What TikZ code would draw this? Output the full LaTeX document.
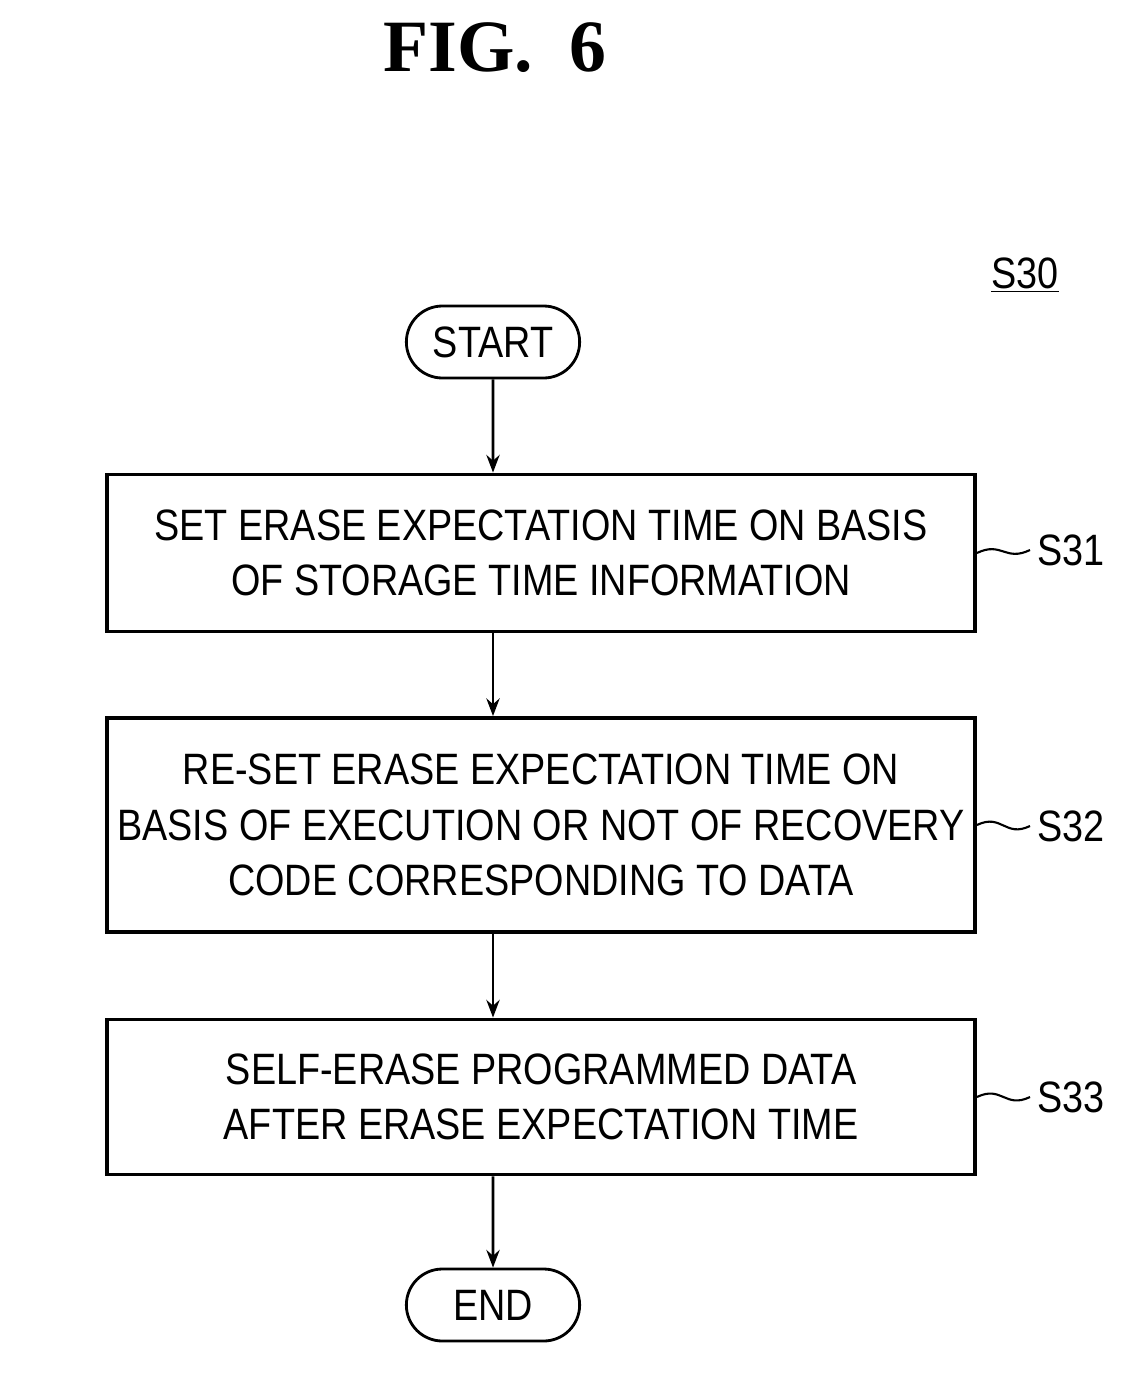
\documentclass[tikz,border=0pt]{standalone}
\usepackage{fontspec}
\setmainfont{Liberation Sans}[FakeStretch=0.86]
\newfontfamily\titlefont{Liberation Serif}
\usetikzlibrary{shapes.misc,arrows.meta}
\begin{document}
\begin{tikzpicture}[x=0.02cm,y=-0.02cm,line width=1.6pt,
stepbox/.style={draw,rectangle,inner sep=0pt,minimum width=868*0.02cm,align=center,font=\fontsize{25}{31.5}\selectfont,line width=2.2pt},
termnode/.style={draw,rounded rectangle,minimum width=185*0.02cm,minimum height=72*0.02cm,font=\fontsize{25}{30}\selectfont},
steplabel/.style={font=\fontsize{25}{30}\selectfont,anchor=west}]
\useasboundingbox (0,0) rectangle (1145,1375);

\node[font=\titlefont\bfseries\fontsize{42}{48}\selectfont] (title) at (495,48) {FIG.\ \ 6};
\node[font=\fontsize{25}{30}\selectfont] (S30) at (1025,275) {\underline{S30}};

\node[termnode] (start) at (493,342) {START};
\node[stepbox,minimum height=157*0.02cm] (S31box) at (541,553) {SET ERASE EXPECTATION TIME ON BASIS\\OF STORAGE TIME INFORMATION};
\node[stepbox,minimum height=214*0.02cm] (S32box) at (541,825) {RE-SET ERASE EXPECTATION TIME ON\\BASIS OF EXECUTION OR NOT OF RECOVERY\\CODE CORRESPONDING TO DATA};
\node[stepbox,minimum height=155*0.02cm] (S33box) at (541,1097) {SELF-ERASE PROGRAMMED DATA\\AFTER ERASE EXPECTATION TIME};
\node[termnode] (end) at (493,1305) {END};

\draw[-{Stealth[length=10pt]}] (start) -- (start|-S31box.north);
\draw[-{Stealth[length=10pt]}] (S31box.south-|start) -- (start|-S32box.north);
\draw[-{Stealth[length=10pt]}] (S32box.south-|start) -- (start|-S33box.north);
\draw[-{Stealth[length=10pt]}] (S33box.south-|start) -- (end);

% step labels with leaders
\node[steplabel] (S31) at (1030,550) {S31};
\node[steplabel] (S32) at (1030,826) {S32};
\node[steplabel] (S33) at (1030,1097) {S33};
\foreach \n in {S31,S32,S33}
  \draw[line width=1.2pt] (\n box.east) .. controls +(25,-12) and +(-25,12) .. (\n.west);
\end{tikzpicture}
\end{document}
